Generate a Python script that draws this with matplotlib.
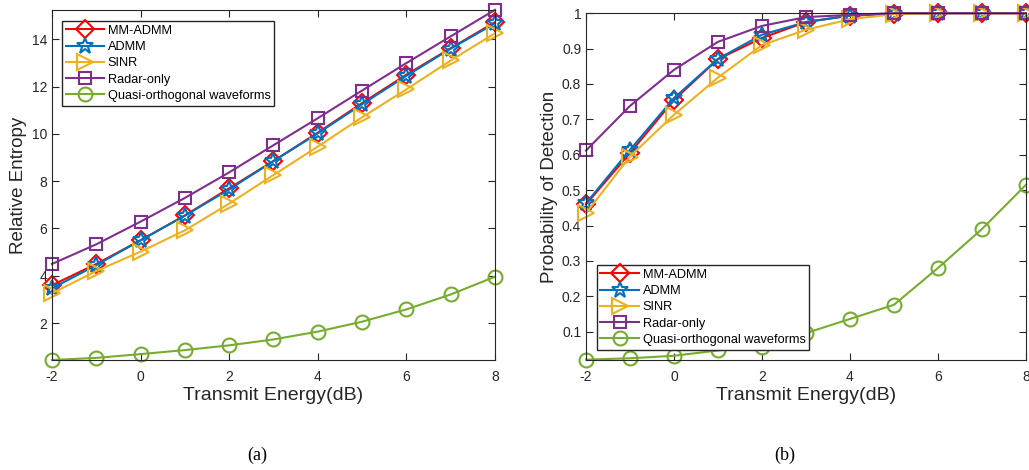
import numpy as np
import matplotlib.pyplot as plt

plt.rcParams['font.family'] = ['Liberation Sans', 'DejaVu Sans']
plt.rcParams['axes.unicode_minus'] = False

energy = [-2, -1, 0, 1, 2, 3, 4, 5, 6, 7, 8]
labels = ["MM-ADMM", "ADMM", "SINR", "Radar-only", "Quasi-orthogonal waveforms"]

# (a) relative entropy
re_mm = [3.6, 4.5, 5.5, 6.55, 7.7, 8.85, 10.05, 11.3, 12.5, 13.62, 14.72]
re_admm = [3.47, 4.45, 5.5, 6.54, 7.65, 8.85, 10.02, 11.25, 12.45, 13.6, 14.67]
re_sinr = [3.26, 4.2, 5.02, 5.92, 7.05, 8.26, 9.46, 10.7, 11.88, 13.1, 14.25]
re_radar = [4.5, 5.33, 6.29, 7.29, 8.37, 9.52, 10.66, 11.83, 12.99, 14.12, 15.24]
re_quasi = [0.44, 0.53, 0.69, 0.86, 1.06, 1.31, 1.64, 2.06, 2.58, 3.21, 3.96]

# (b) probability of detection
pd_mm = [0.46, 0.605, 0.755, 0.87, 0.93, 0.975, 0.993, 0.998, 1.0, 1.0, 1.0]
pd_admm = [0.463, 0.614, 0.76, 0.871, 0.939, 0.975, 0.993, 0.999, 1.0, 1.0, 1.0]
pd_sinr = [0.435, 0.595, 0.713, 0.818, 0.91, 0.953, 0.983, 0.997, 1.0, 1.0, 1.0]
pd_radar = [0.612, 0.738, 0.84, 0.919, 0.964, 0.989, 0.995, 1.0, 1.0, 1.0, 1.0]
pd_quasi = [0.021, 0.025, 0.032, 0.047, 0.058, 0.096, 0.136, 0.176, 0.28, 0.39, 0.515]

colors = ['#ff0000', '#0072bd', '#edb120', '#7e2f8e', '#77ac30']
markers = ['D', '*', '>', 's', 'o']
msizes = [9, 12, 11, 9, 10]

fig = plt.figure(figsize=(10.29, 4.70), dpi=100)
ax1 = fig.add_axes([0.0505, 0.234, 0.4305, 0.745])
ax2 = fig.add_axes([0.5695, 0.234, 0.4275, 0.738])


def draw(ax, series):
    for ys, lab, c, m, ms in zip(series, labels, colors, markers, msizes):
        ax.plot(energy, ys, '-', marker=m, color=c, label=lab, linewidth=1.5,
                markersize=ms, markerfacecolor='none', markeredgewidth=1.5,
                clip_on=False)
    ax.set_xlim(-2, 8)
    ax.set_xticks([-2, 0, 2, 4, 6, 8])
    ax.tick_params(direction='in', top=True, right=True, labelsize=10,
                   colors='#262626', length=5)
    ax.tick_params(axis='x', pad=7)
    for s in ax.spines.values():
        s.set_color('#262626')
        s.set_linewidth(0.8)
    ax.set_xlabel("Transmit Energy(dB)", fontsize=14, color='#262626', labelpad=2)


draw(ax1, [re_mm, re_admm, re_sinr, re_radar, re_quasi])
ax1.set_ylim(0.44, 15.24)
ax1.set_yticks([2, 4, 6, 8, 10, 12, 14])
ax1.set_ylabel("Relative Entropy", fontsize=13.5, color='#262626', labelpad=3)
ax1.legend(loc='upper left', bbox_to_anchor=(0.022, 0.968), fontsize=9.2,
           fancybox=False, edgecolor='#262626', framealpha=1, handlelength=3,
           borderpad=0.3, labelspacing=0.33, handletextpad=0.3, borderaxespad=0)

draw(ax2, [pd_mm, pd_admm, pd_sinr, pd_radar, pd_quasi])
ax2.set_ylim(0.02, 1.0)
ax2.set_yticks([0.1, 0.2, 0.3, 0.4, 0.5, 0.6, 0.7, 0.8, 0.9, 1.0])
ax2.set_yticklabels(['0.1', '0.2', '0.3', '0.4', '0.5', '0.6', '0.7', '0.8', '0.9', '1'])
ax2.set_ylabel("Probability of Detection", fontsize=13.5, color='#262626', labelpad=3)
ax2.legend(loc='lower left', bbox_to_anchor=(0.024, 0.03), fontsize=9.2,
           fancybox=False, edgecolor='#262626', framealpha=1, handlelength=3,
           borderpad=0.3, labelspacing=0.33, handletextpad=0.3, borderaxespad=0)

fig.text(0.25, 0.032, "(a)", fontsize=13, family=['Liberation Serif', 'DejaVu Serif'],
         ha='center', va='center')
fig.text(0.763, 0.032, "(b)", fontsize=13, family=['Liberation Serif', 'DejaVu Serif'],
         ha='center', va='center')

fig.savefig("out.png", dpi=100)
